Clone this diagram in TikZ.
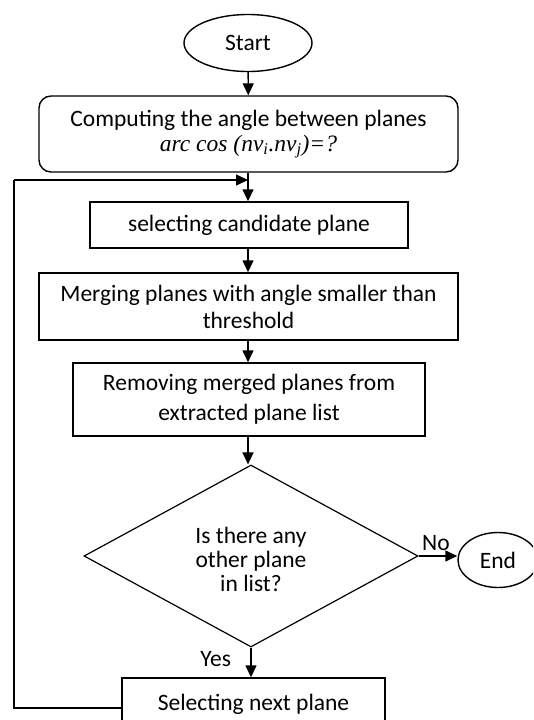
\documentclass[tikz,border=0pt]{standalone}
\usepackage{fontspec}
\setmainfont{Carlito}
\newfontfamily\formfont{Liberation Serif}
\usetikzlibrary{shapes.geometric,arrows.meta}
\begin{document}
\begin{tikzpicture}[x=1pt,y=-1pt,
  every node/.style={font=\fontsize{23.5}{25}\selectfont, text=black},
  box/.style={draw, line width=1.4pt, align=center, inner sep=0pt},
  term/.style={draw, line width=1.4pt, ellipse, inner sep=0pt},
  arr/.style={line width=1.4pt, -{Triangle[length=12pt,width=11pt]}},
  ln/.style={line width=1.4pt}]
\useasboundingbox (0,0) rectangle (533,720);
\clip (0,0) rectangle (533,720);
\node[term, minimum width=128pt, minimum height=57pt] (start) at (248,43) {Start};
\node[box, rounded corners=12pt, minimum width=419pt, minimum height=76pt] (comp) at (248.5,134) {Computing the angle between planes\\{\formfont\itshape arc cos (nv\textsubscript{i}.nv\textsubscript{j})=?}};
\node[box, minimum width=318pt, minimum height=46pt] (sel) at (249,225) {selecting candidate plane};
\node[box, minimum width=419pt, minimum height=67pt] (merge) at (248.5,306.5) {Merging planes with angle smaller than\\[2pt]threshold};
\node[box, minimum width=352pt, minimum height=73pt] (rem) at (249,399.5) {Removing merged planes from\\[5pt]extracted plane list};
\node[draw, line width=1.2pt, diamond, aspect=1.83, minimum width=334pt, minimum height=182pt, inner sep=0pt] (dec) at (251,556) {};
\node[align=center, font=\fontsize{23.5}{24}\selectfont] at (251,559) {Is there any\\other plane\\in list?};
\node[term, minimum width=80pt, minimum height=55pt] (end) at (498,560) {End};
\node[box, minimum width=263pt, minimum height=60pt] (next) at (253.5,708) {};
\node at (253.5,704) {Selecting next plane};
\coordinate (jn) at (248,180);
\coordinate (lb) at (14,708);
\coordinate (lt) at (14,180);
\draw[arr] (start) -- (comp);
\draw[ln] (comp.south -| jn) -- (jn);
\draw[arr] (jn) -- (sel.north -| jn);
\draw[arr] (sel.south -| jn) -- (merge.north -| jn);
\draw[arr] (merge.south -| jn) -- (rem.north -| jn);
\draw[arr] (rem.south -| jn) -- (dec.north -| jn);
\draw[arr] (dec.east) -- node[above, pos=0.45, yshift=1pt] {No} (dec.east -| end.west);
\draw[arr] (dec.south) -- node[left, pos=0.4, xshift=-16pt] {Yes} (dec.south |- next.north);
\draw[ln] (next.west |- lb) -- (lb) -- (lt);
\draw[arr] (lt) -- (jn);
\end{tikzpicture}
\end{document}
